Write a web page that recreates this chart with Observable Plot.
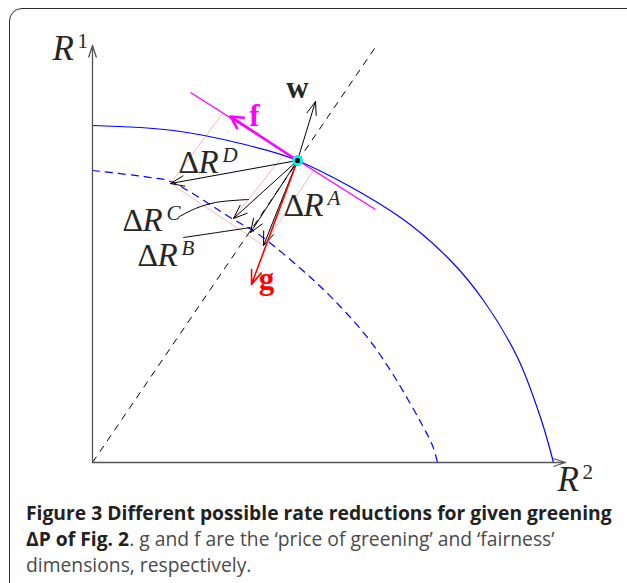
<!DOCTYPE html>
<html><head><meta charset="utf-8">
<script src="https://cdn.jsdelivr.net/npm/d3@7"></script>
<script src="https://cdn.jsdelivr.net/npm/@observablehq/plot@0.6"></script>
<style>
html,body{margin:0;padding:0;background:#fff;overflow:hidden;width:627px;height:583px;}
#chart{position:absolute;left:0;top:0;}
#frame{position:absolute;left:9px;top:8px;width:640px;height:600px;border:1.7px solid #2b2b2b;border-radius:13px;box-sizing:border-box;background:transparent;pointer-events:none;}
#caption{position:absolute;left:26px;top:500px;font-family:"Open Sans",sans-serif;font-size:17px;line-height:26px;color:#4a4a4a;white-space:nowrap;}
#caption b{color:#222;font-weight:700;}
</style></head><body>
<div id="chart"></div>
<div id="frame"></div>
<div id="caption"></div>
<script>
// ---- values (R2 = horizontal, R1 = vertical) ----
const outerR2 = [0, 0.81, 1.48, 2.05, 3.08, 3.58, 3.91, 4.25, 4.48, 4.61];
const outerR1 = [3.37, 3.32, 3.19, 3.02, 2.45, 2.02, 1.62, 1.05, 0.45, 0];
const innerR2 = [0, 0.58, 0.78, 1.41, 1.65, 2.08, 2.41, 2.75, 2.98, 3.16, 3.30, 3.40, 3.45];
const innerR1 = [2.92, 2.85, 2.81, 2.43, 2.29, 1.94, 1.63, 1.25, 0.92, 0.62, 0.37, 0.17, 0];
const pointR2 = 2.05, pointR1 = 3.02;
const axisMaxR2 = 4.73, axisMaxR1 = 4.17;
const diagonalR2 = [0, 2.84], diagonalR1 = [0, 4.17];
const tangentR2 = [0.98, 2.83], tangentR1 = [3.70, 2.53];
const reductionNames = ["D", "C", "B", "A"];
const reductionR2 = [0.78, 1.41, 1.58, 1.71];
const reductionR1 = [2.79, 2.44, 2.30, 2.17];
const reductionLabelR2 = [0.86, 0.30, 0.45, 1.91];
const reductionLabelR1 = [2.90, 2.32, 1.97, 2.47];
const directionNames = ["w", "f", "g"];
const directionR2 = [2.23, 1.38, 1.59];
const directionR1 = [3.61, 3.46, 1.78];
const directionLabelR2 = [2.05, 1.62, 1.74];
const directionLabelR1 = [3.65, 3.37, 1.74];
const projStartR2 = [0.78, 1.41, 1.71, 0.78];
const projStartR1 = [2.79, 2.44, 2.17, 2.79];
const projEndR2 = [1.30, 1.93, 2.21, 1.71];
const projEndR1 = [3.49, 3.10, 2.92, 2.17];
const leaderCR2 = [0.87, 1.03, 1.23, 1.56];
const leaderCR1 = [2.46, 2.54, 2.60, 2.63];
const leaderBR2 = [0.91, 1.25, 1.58];
const leaderBR1 = [2.25, 2.30, 2.35];
const axisNames = ["1", "2"];
const axisLabelR2 = [-0.40, 4.65];
const axisLabelR1 = [4.03, -0.28];

// ---- tables ----
const outer = outerR2.map((x, i) => ({x, y: outerR1[i]}));
const inner = innerR2.map((x, i) => ({x, y: innerR1[i]}));
const reductions = reductionNames.map((n, i) => ({n, x1: pointR2, y1: pointR1, x2: reductionR2[i], y2: reductionR1[i], lx: reductionLabelR2[i], ly: reductionLabelR1[i]}));
const directions = directionNames.map((n, i) => ({n, x1: pointR2, y1: pointR1, x2: directionR2[i], y2: directionR1[i], lx: directionLabelR2[i], ly: directionLabelR1[i]}));
const proj = projStartR2.map((x1, i) => ({x1, y1: projStartR1[i], x2: projEndR2[i], y2: projEndR1[i]}));
const leaderC = leaderCR2.map((x, i) => ({x, y: leaderCR1[i]}));
const leaderB = leaderBR2.map((x, i) => ({x, y: leaderBR1[i]}));
const axes = [{x1: 0, y1: 0, x2: 0, y2: axisMaxR1}, {x1: 0, y1: 0, x2: axisMaxR2, y2: 0}];
const axisLabels = axisNames.map((n, i) => ({n, x: axisLabelR2[i], y: axisLabelR1[i]}));
const dir = n => directions.filter(d => d.n === n);
const serif = "Liberation Serif";
const lk = {x1: "x1", y1: "y1", x2: "x2", y2: "y2"};
const ink = "#262626";

const chart = Plot.plot({
  width: 627, height: 500, margin: 0,
  style: {background: "transparent"},
  x: {domain: [0, 4.73], range: [92, 565], axis: null},
  y: {domain: [0, 4.17], range: [462, 45], axis: null},
  marks: [
    Plot.link(proj, {...lk, stroke: "#f7b9b9", strokeWidth: 1}),
    Plot.line(outer, {x: "x", y: "y", curve: "catmull-rom", stroke: "#0000ff", strokeWidth: 1.2}),
    Plot.line(inner, {x: "x", y: "y", curve: "catmull-rom", stroke: "#0000ff", strokeWidth: 1.2, strokeDasharray: "7,6"}),
    Plot.link([{x1: diagonalR2[0], y1: diagonalR1[0], x2: diagonalR2[1], y2: diagonalR1[1]}], {...lk, stroke: "#000", strokeWidth: 1, strokeDasharray: "7,6"}),
    Plot.link([{x1: tangentR2[0], y1: tangentR1[0], x2: tangentR2[1], y2: tangentR1[1]}], {...lk, stroke: "#ff00ff", strokeWidth: 1.3}),
    Plot.arrow(axes, {...lk, stroke: "#555", strokeWidth: 1.3, headLength: 14, headAngle: 36}),
    Plot.line(leaderC, {x: "x", y: "y", curve: "catmull-rom", stroke: "#000", strokeWidth: 1}),
    Plot.line(leaderB, {x: "x", y: "y", curve: "catmull-rom", stroke: "#000", strokeWidth: 1}),
    Plot.arrow(reductions, {...lk, stroke: "#000", strokeWidth: 1, headLength: 22, headAngle: 42}),
    Plot.arrow(dir("w"), {...lk, stroke: "#000", strokeWidth: 1, headLength: 21, headAngle: 40}),
    Plot.arrow(dir("f"), {...lk, stroke: "#ff00ff", strokeWidth: 2.5, headLength: 8, headAngle: 55}),
    Plot.arrow(dir("g"), {...lk, stroke: "#ff0000", strokeWidth: 1.6, headLength: 14, headAngle: 40}),
    Plot.dot([{x: pointR2, y: pointR1}], {x: "x", y: "y", r: 4, fill: "#000", stroke: "#00f0f0", strokeWidth: 2.8}),
    // ΔR labels
    Plot.text(reductions, {x: "lx", y: "ly", text: () => "Δ", textAnchor: "start", lineAnchor: "bottom", fontSize: 32, fontFamily: serif, fill: ink}),
    Plot.text(reductions, {x: "lx", y: "ly", text: () => "R", dx: 20, textAnchor: "start", lineAnchor: "bottom", fontSize: 33, fontFamily: serif, fontStyle: "italic", fill: ink}),
    Plot.text(reductions, {x: "lx", y: "ly", text: "n", dx: 44, dy: -11, textAnchor: "start", lineAnchor: "bottom", fontSize: 21, fontFamily: serif, fontStyle: "italic", fill: ink}),
    // axis labels
    Plot.text(axisLabels, {x: "x", y: "y", text: () => "R", textAnchor: "start", lineAnchor: "bottom", fontSize: 35, fontFamily: serif, fontStyle: "italic", fill: ink}),
    Plot.text(axisLabels, {x: "x", y: "y", text: "n", dx: 25, dy: -12, textAnchor: "start", lineAnchor: "bottom", fontSize: 21, fontFamily: serif, fill: ink}),
    // direction labels
    Plot.text(directions, {x: "lx", y: "ly", text: "n", textAnchor: "middle", lineAnchor: "bottom", fontSize: 31, fontWeight: "bold", fontFamily: serif, fill: d => d.n === "f" ? "#ff00ff" : d.n === "g" ? "#ff0000" : ink})
  ]
});
document.getElementById("chart").appendChild(chart);

const cap = document.getElementById("caption");
cap.innerHTML = "<b>Figure 3 Different possible rate reductions for given greening</b><br><b>ΔP of Fig. 2</b>. g and f are the ‘price of greening’ and ‘fairness’<br>dimensions, respectively.";
// fit first line to the reference width
const probe = document.createElement("span");
probe.style.fontWeight = "700";
probe.textContent = "Figure 3 Different possible rate reductions for given greening";
probe.style.visibility = "hidden";
probe.style.position = "absolute";
cap.appendChild(probe);
const w = probe.getBoundingClientRect().width;
cap.removeChild(probe);
cap.style.fontSize = (17 * 586 / w).toFixed(2) + "px";
</script>
</body></html>
